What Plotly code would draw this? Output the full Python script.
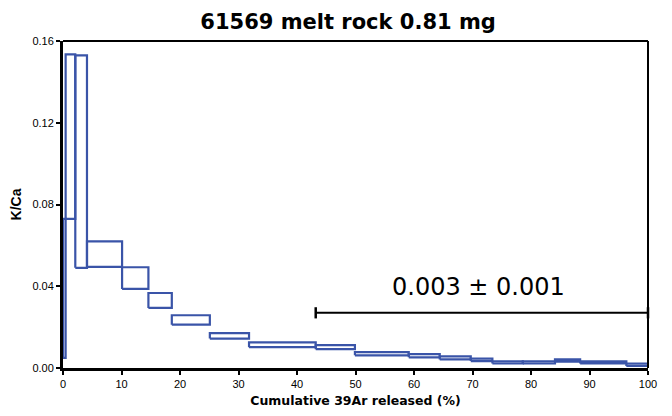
import plotly.graph_objects as go

# Step edges (cumulative 39Ar released, %)
step_edges = [0, 0.45, 2.1, 4.1, 10.1, 14.6, 18.6, 25.1, 31.8, 43.2, 49.9,
              59.1, 64.4, 69.7, 73.4, 78.6, 84.1, 88.4, 96.3, 100]
# Upper and lower K/Ca bounds for each step
kca_upper = [0.073, 0.1535, 0.153, 0.062, 0.0493, 0.0367, 0.0258, 0.0171, 0.0125,
             0.0112, 0.0078, 0.0068, 0.0057, 0.0046, 0.0033, 0.0033, 0.0042, 0.0032, 0.0022]
kca_lower = [0.005, 0.073, 0.049, 0.0495, 0.0387, 0.0294, 0.0212, 0.0144, 0.0102,
             0.0092, 0.0062, 0.0052, 0.0042, 0.0034, 0.0022, 0.0022, 0.0031, 0.0022, 0.0010]

# Plateau indicator
plateau_x = [43.2, 100]
plateau_y = 0.027
plateau_label = "0.003 ± 0.001"

x_ticks = [0, 10, 20, 30, 40, 50, 60, 70, 80, 90, 100]
y_ticks = [0.00, 0.04, 0.08, 0.12, 0.16]

BLUE = "#3a54a8"
SANS = "Liberation Sans, Arial, sans-serif"
WIDE = "DejaVu Sans, Verdana, sans-serif"

xs, ys = [], []
for i in range(len(kca_upper)):
    x0, x1 = step_edges[i], step_edges[i + 1]
    lo, hi = kca_lower[i], kca_upper[i]
    xs += [x0, x1, x1, x0, x0, None]
    ys += [lo, lo, hi, hi, lo, None]

fig = go.Figure()
fig.add_trace(go.Scatter(x=xs, y=ys, mode="lines",
                         line=dict(color=BLUE, width=2.2),
                         hoverinfo="skip", showlegend=False, cliponaxis=False))
fig.add_trace(go.Scatter(x=plateau_x, y=[plateau_y] * len(plateau_x),
                         mode="lines+markers",
                         line=dict(color="black", width=2),
                         marker=dict(symbol="line-ns", size=8,
                                     line=dict(color="black", width=2.5)),
                         showlegend=False, cliponaxis=False))

fig.add_annotation(x=71.05, y=0.0397, text=plateau_label, showarrow=False,
                   font=dict(family=WIDE, size=24, color="black"))

axis_font = dict(family=SANS, size=11, color="black")

fig.update_layout(
    width=672, height=416,
    margin=dict(l=63, r=24, t=41, b=48),
    paper_bgcolor="white", plot_bgcolor="white",
    title=dict(text="<b>61569 melt rock 0.81 mg</b>", x=0.518, xanchor="center",
               y=0.948, yanchor="middle",
               font=dict(family=WIDE, size=21, color="black")),
    xaxis=dict(range=[0, 100], tickvals=x_ticks, ticktext=[str(v) for v in x_ticks],
               showgrid=False, zeroline=False, showline=True, linecolor="black", linewidth=3,
               ticks="outside", ticklen=4, tickwidth=2, tickcolor="black",
               tickfont=axis_font, automargin=False,
               title=dict(text="<b>Cumulative 39Ar released (%)</b>", standoff=8,
                          font=dict(family=WIDE, size=12.5, color="black"))),
    yaxis=dict(range=[0, 0.16], tickvals=y_ticks, ticktext=[f"{v:.2f}" for v in y_ticks],
               showgrid=False, zeroline=False, showline=True, linecolor="black", linewidth=3,
               ticks="outside", ticklen=4, tickwidth=2, tickcolor="black",
               tickfont=axis_font,
               title=dict(text="<b>K/Ca</b>", standoff=8,
                          font=dict(family=SANS, size=14, color="black"))),
)

# Top and right frame lines
fig.add_shape(type="line", xref="paper", yref="paper", x0=0, x1=1, y0=1, y1=1,
              line=dict(color="black", width=2))
fig.add_shape(type="line", xref="paper", yref="paper", x0=1, x1=1, y0=0, y1=1,
              line=dict(color="black", width=2))

fig.write_html("out.html")
